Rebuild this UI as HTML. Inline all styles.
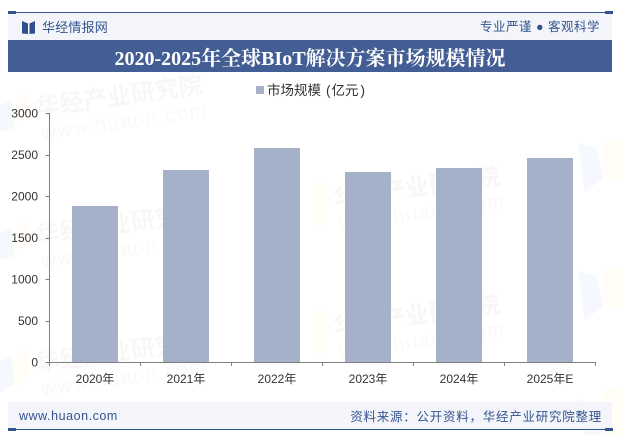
<!DOCTYPE html>
<html lang="zh">
<head>
<meta charset="utf-8">
<title>2020-2025年全球BIoT解决方案市场规模情况</title>
<style>
html,body{margin:0;padding:0;background:#fff;overflow:hidden;}
#stage{position:relative;width:623px;height:435px;overflow:hidden;background:#fff;}
svg{position:absolute;left:0;top:0;}
text{font-family:"Liberation Sans","Noto Sans CJK SC",sans-serif;}
</style>
</head>
<body>
<div id="stage">
<svg id="chart" width="623" height="435" viewBox="0 0 623 435">
  <g id="watermarks"></g>
  <g>
    <rect x="8" y="13" width="604" height="27" fill="#f3f5fa"></rect>
    <rect x="8" y="12" width="604" height="1" fill="#34548f"></rect>
    <rect x="8" y="11" width="8" height="3" fill="#34548f"></rect>
    <rect x="605" y="11" width="8" height="3" fill="#34548f"></rect>
    <path d="M22 21 L28 23.5 V34 L22 33.5 Z M35 21 L29.5 23.5 V34 L35 33.5 Z" fill="#2f4f8c"></path>
    <text x="42" y="32" font-size="13" letter-spacing="0.2" fill="#34548f">华经情报网</text>
    <text x="600" y="31" text-anchor="end" font-size="12.5" letter-spacing="0.5" fill="#34548f">专业严谨 ● 客观科学</text>
  </g>
  <rect x="8" y="40" width="604" height="32" fill="#435e94"></rect>
  <text x="310" y="65" text-anchor="middle" font-size="20" font-weight="700" fill="#ffffff" style='font-family:"Liberation Serif","Noto Serif CJK SC",serif'>2020-2025年全球BIoT解决方案市场规模情况</text>

  <g>
    <rect x="256" y="86" width="8" height="8" fill="#a5b1c9"></rect>
    <text x="267" y="95" font-size="13.5" fill="#333333">市场规模<tspan dx="5">(</tspan><tspan dx="1">亿元</tspan><tspan dx="2">)</tspan></text>
  </g>

  <g id="bars"></g>
  <g id="y-axis"></g>
  <g id="x-axis"></g>

  <g>
    <rect x="8" y="402" width="604" height="27" fill="#f3f5fa"></rect>
    <rect x="8" y="429" width="604" height="1" fill="#34548f"></rect>
    <rect x="8" y="428" width="8" height="3" fill="#34548f"></rect>
    <rect x="605" y="428" width="8" height="3" fill="#34548f"></rect>
    <text x="19" y="420" font-size="12.5" font-weight="400" letter-spacing="0.55" fill="#34548f">www.huaon.com</text>
    <text x="602" y="421" text-anchor="end" font-size="12.5" letter-spacing="0.75" fill="#34548f">资料来源：公开资料，华经产业研究院整理</text>
  </g>
</svg>
</div>
<script>
const categories = ['2020年', '2021年', '2022年', '2023年', '2024年', '2025年E'];
const marketSize = [1880, 2313, 2578, 2289, 2337, 2458];
const yTicks = [0, 500, 1000, 1500, 2000, 2500, 3000];

const NS = 'http://www.w3.org/2000/svg';
const plotLeft = 49.5, plotRight = 595.5, plotTop = 113, plotBottom = 362;
const yMax = 3000;
const barWidth = 46;
const yScale = v => plotBottom - (v / yMax) * (plotBottom - plotTop);
const bandWidth = (plotRight - plotLeft) / categories.length;
const xBand = i => plotLeft + bandWidth * i;

function make(tag, attrs, parent) {
  const el = document.createElementNS(NS, tag);
  for (const k in attrs) el.setAttribute(k, attrs[k]);
  parent.appendChild(el);
  return el;
}

const wmLayer = document.getElementById('watermarks');
const shapes = [
  ['578,143 597,148 603,178 585,192', '#f5f8fe'],
  ['602,146 623,137 623,182 605,176', '#fffdf5'],
  ['578,271 597,276 603,306 585,320', '#f5f8fe'],
  ['602,274 623,265 623,310 605,304', '#fffdf5'],
  ['578,399 597,404 603,434 585,435', '#f5f8fe'],
  ['602,393 623,385 623,435 605,435', '#fffdf5'],
  ['0,105 12,100 14,128 0,132', '#f5f8fe'],
  ['14,100 27,92 29,116 14,126', '#fffdf5'],
  ['0,233 12,228 14,256 0,260', '#f5f8fe'],
  ['14,228 27,220 29,244 14,254', '#fffdf5'],
  ['0,361 12,356 14,384 0,392', '#f5f8fe'],
  ['14,356 27,348 29,372 14,388', '#fffdf5'],
  ['312,180 325,178 327,222 312,228', '#fffef8'],
  ['312,308 325,306 327,350 312,356', '#fffef8']
];
shapes.forEach(function (s) {
  const el = make('polygon', { points: s[0], fill: s[1] }, wmLayer);
  
  
});
const wmAnchors = [[37, 116], [37, 244], [37, 372], [335, 207], [335, 335]];
wmAnchors.forEach(function (p) {
  const g = make('g', { transform: 'translate(' + p[0] + ' ' + p[1] + ') rotate(-8)' }, wmLayer);
  
  
  const a = make('text', { x: 0, y: 0, 'font-size': '24', 'font-weight': '700', fill: '#f7f7f7' }, g);
  a.textContent = '华经产业研究院';
  
  
  const b = make('text', { x: 2, y: 24, 'font-size': '20', 'letter-spacing': '1.6', fill: '#f9f9f9' }, g);
  b.textContent = 'www.huaon.com';
  
  
});

const barsG = document.getElementById('bars');
marketSize.forEach(function (v, i) {
  const top = yScale(v);
  const r = make('rect', {
    x: xBand(i) + bandWidth / 2 - barWidth / 2,
    y: top,
    width: barWidth,
    height: plotBottom - top,
    fill: '#a5b1c9'
  }, barsG);
  
  
});

const yG = document.getElementById('y-axis');
const yLine = make('line', { x1: plotLeft, x2: plotLeft, y1: plotTop, y2: plotBottom, stroke: '#7f7f7f', 'stroke-width': 1 }, yG);


yTicks.forEach(function (t) {
  const y = Math.round(yScale(t)) + 0.5;
  const tick = make('line', { x1: plotLeft - 4, x2: plotLeft, y1: y, y2: y, stroke: '#7f7f7f', 'stroke-width': 1 }, yG);
  
  
  const lab = make('text', { x: 38, y: yScale(t) + 4.5, 'text-anchor': 'end', 'font-size': '12', fill: '#333333' }, yG);
  lab.textContent = t;
  
  
});

const xG = document.getElementById('x-axis');
const xLine = make('line', { x1: plotLeft, x2: plotRight, y1: plotBottom + 0.5, y2: plotBottom + 0.5, stroke: '#7f7f7f', 'stroke-width': 1 }, xG);


for (let i = 0; i <= categories.length; i++) {
  const x = Math.round(xBand(i) - 0.5) + 0.5;
  const tick = make('line', { x1: x, x2: x, y1: plotBottom, y2: plotBottom + 4, stroke: '#7f7f7f', 'stroke-width': 1 }, xG);
  
  
}
categories.forEach(function (c, i) {
  const lab = make('text', { x: xBand(i) + bandWidth / 2, y: 383, 'text-anchor': 'middle', 'font-size': '12', fill: '#333333' }, xG);
  lab.textContent = c;
  
  
});
</script>
</body>
</html>
